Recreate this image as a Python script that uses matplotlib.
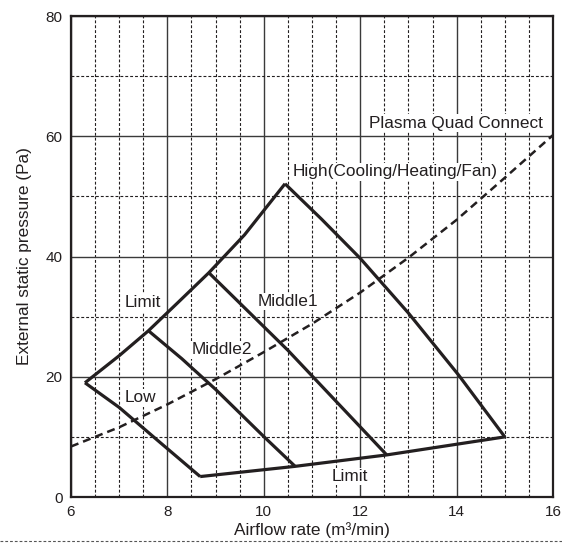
import matplotlib.pyplot as plt
from matplotlib.lines import Line2D

plt.rcParams['font.family'] = ['Liberation Sans', 'DejaVu Sans']

INK = "#231f20"
GRID = "#3a3a3a"

# outer operating range
limit_up_x = [6.29, 7.0, 7.60, 8.2, 8.86, 9.6, 10.44]
limit_up_y = [19.0, 23.5, 27.6, 32.2, 37.3, 43.6, 52.1]
high_x = [10.44, 11.2, 12.0, 13.0, 14.04, 15.0]
high_y = [52.1, 46.2, 39.7, 30.6, 20.3, 10.0]
limit_low_x = [8.68, 10.65, 12.55, 15.0]
limit_low_y = [3.4, 5.1, 7.0, 10.0]
low_x = [6.29, 7.0, 7.8, 8.68]
low_y = [19.0, 14.9, 9.4, 3.4]
middle1_x = [8.86, 10.5, 12.55]
middle1_y = [37.3, 24.4, 7.0]
middle2_x = [7.60, 8.3, 9.0, 10.02, 10.65]
middle2_y = [27.7, 23.0, 17.9, 9.9, 5.1]

# Plasma Quad Connect resistance curve
pqc_x = [6, 7, 8, 9, 10, 11, 12, 13, 14, 15, 16]
pqc_y = [8.4, 11.6, 15.4, 19.6, 24.1, 28.8, 34.0, 39.8, 46.1, 53.1, 60.2]

fig = plt.figure(figsize=(5.62, 5.43), dpi=100)
ax = fig.add_axes([0.1263, 0.0847, 0.8577, 0.8858])

ax.set_xlim(6, 16)
ax.set_ylim(0, 80)
ax.set_xticks(range(6, 17, 2))
ax.set_yticks(range(0, 81, 20))
ax.set_xticks([6 + 0.5 * i for i in range(21)], minor=True)
ax.set_yticks(range(0, 81, 10), minor=True)
ax.grid(which="major", color=GRID, lw=1.0, ls="-")
ax.grid(which="minor", color=INK, lw=0.8, ls=(0, (2.6, 1.8)))
ax.set_axisbelow(True)
ax.tick_params(which="both", length=0, labelsize=11, labelcolor=INK, pad=6)
for s in ax.spines.values():
    s.set_linewidth(1.6)
    s.set_color(INK)

kw = dict(color=INK, lw=2.3, solid_joinstyle="miter", solid_capstyle="butt", zorder=4)
ax.plot(limit_up_x, limit_up_y, **kw)
ax.plot(high_x, high_y, **kw)
ax.plot(limit_low_x, limit_low_y, **kw)
ax.plot(low_x, low_y, **kw)
ax.plot(middle1_x, middle1_y, **kw)
ax.plot(middle2_x, middle2_y, **kw)
ax.plot(pqc_x, pqc_y, color=INK, lw=1.8, dashes=(3.2, 2.0), zorder=3, clip_on=False)

# labels sit on a white patch that hides the grid (but not the curves)
tk = dict(fontsize=12.4, color=INK, va="center", zorder=2.5,
          bbox=dict(facecolor="white", edgecolor="none", pad=1.0))
ax.text(15.79, 62.2, "Plasma Quad Connect", ha="right", **tk)
ax.text(10.59, 54.1, "High(Cooling/Heating/Fan)", ha="left", **tk)
ax.text(9.87, 32.5, "Middle1", ha="left", **tk)
ax.text(7.12, 32.3, "Limit", ha="left", **tk)
ax.text(8.50, 24.5, "Middle2", ha="left", **tk)
ax.text(7.12, 16.5, "Low", ha="left", **tk)
ax.text(11.41, 3.4, "Limit", ha="left", **tk)

ax.set_xlabel("Airflow rate (m³/min)", fontsize=12.4, color=INK, labelpad=2)
ax.set_ylabel("External static pressure (Pa)", fontsize=12.4, color=INK, labelpad=10)

# dotted separator at the bottom of the figure
fig.add_artist(Line2D([0.0, 1.0], [0.003, 0.003], transform=fig.transFigure,
                      color="#555555", lw=0.8, ls=(0, (2.5, 1.8))))

fig.savefig("out.png", dpi=100)
